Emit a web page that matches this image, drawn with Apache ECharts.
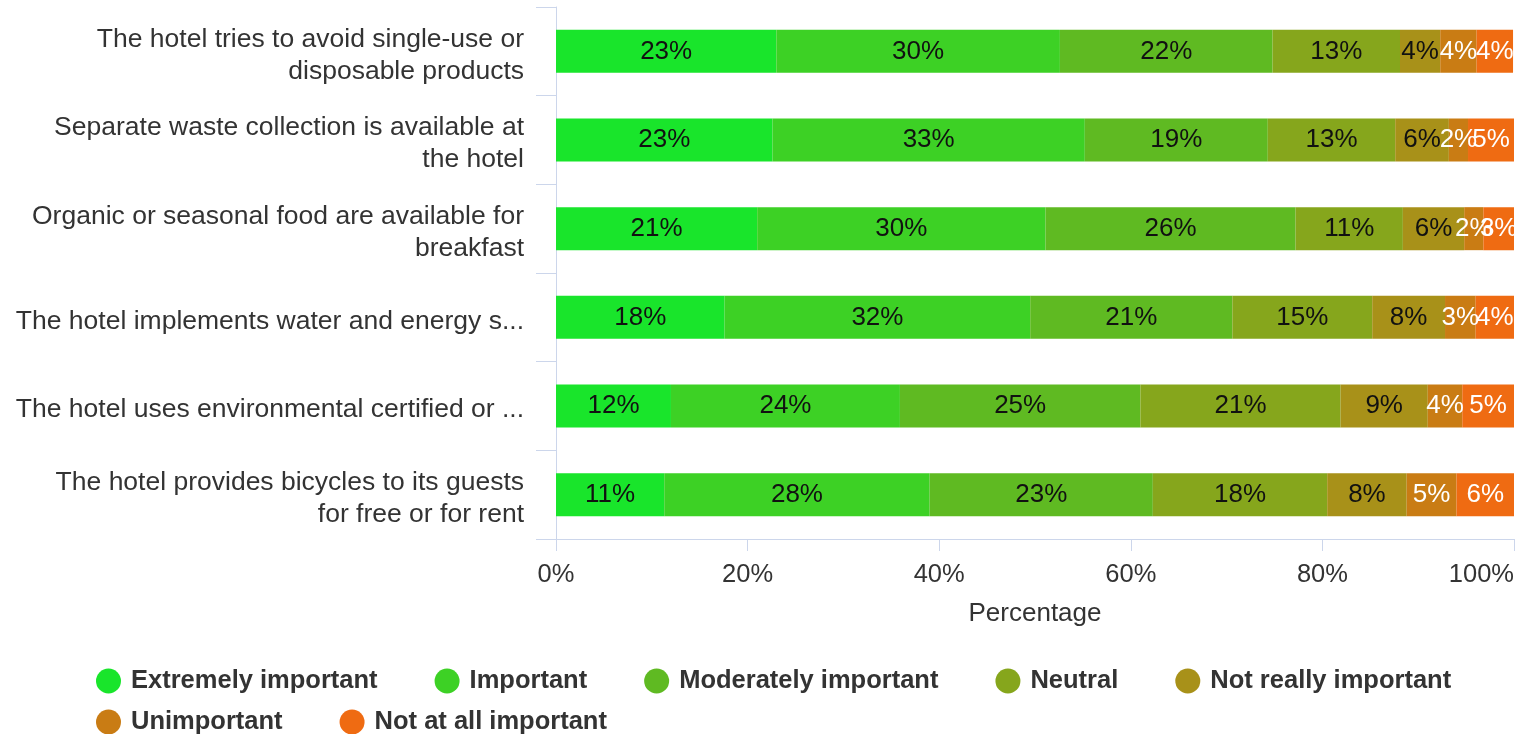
<!DOCTYPE html>
<html>
<head>
<meta charset="utf-8">
<title>Hotel sustainability practices – importance</title>
<script src="https://cdn.jsdelivr.net/npm/echarts@6/dist/echarts.min.js"></script>
<style>
  html, body { margin: 0; padding: 0; background: #fff; }
  #chart { width: 1516px; height: 734px; }
</style>
</head>
<body>
<div id="chart"></div>
<script>
// Survey statements (top to bottom)
const categories = [
  'The hotel tries to avoid single-use or\ndisposable products',
  'Separate waste collection is available at\nthe hotel',
  'Organic or seasonal food are available for\nbreakfast',
  'The hotel implements water and energy s...',
  'The hotel uses environmental certified or ...',
  'The hotel provides bicycles to its guests\nfor free or for rent'
];

// Share of respondents per answer (%), one value per statement
const extremelyImportant  = [23.0, 22.6, 21.0, 17.6, 12.0, 11.3];
const important           = [29.6, 32.6, 30.1, 31.9, 23.9, 27.7];
const moderatelyImportant = [22.2, 19.1, 26.1, 21.1, 25.1, 23.3];
const neutral             = [13.3, 13.3, 11.2, 14.6, 20.9, 18.2];
const notReallyImportant  = [4.2, 5.6, 6.4, 7.6, 9.1, 8.3];
const unimportant         = [3.8, 2.0, 2.0, 3.2, 3.6, 5.2];
const notAtAllImportant   = [3.8, 4.9, 3.3, 4.0, 5.4, 6.0];

const answerNames = [
  'Extremely important', 'Important', 'Moderately important', 'Neutral',
  'Not really important', 'Unimportant', 'Not at all important'
];
const answerValues = [
  extremelyImportant, important, moderatelyImportant, neutral,
  notReallyImportant, unimportant, notAtAllImportant
];
const answerColors = ['#19e52b', '#3dd125', '#5fba22', '#86a61c', '#a89119', '#c97c14', '#ef6b12'];
const labelColors  = ['#111', '#111', '#111', '#111', '#111', '#fff', '#fff'];

const FONT = '"Liberation Sans", Arial, sans-serif';
const AXIS_COLOR = '#ccd6eb';

const series = answerNames.map((name, i) => ({
  name: name,
  type: 'bar',
  stack: 'total',
  barWidth: 43,
  data: answerValues[i],
  itemStyle: { color: answerColors[i] },
  label: {
    show: true,
    position: 'inside',
    color: labelColors[i],
    fontFamily: FONT,
    fontSize: 26,
    formatter: p => Math.round(p.value) + '%'
  },
  emphasis: { disabled: true }
}));

const legendCommon = {
  left: 91,
  orient: 'horizontal',
  icon: 'circle',
  itemWidth: 35,
  itemHeight: 25,
  itemGap: 57,
  selectedMode: false,
  textStyle: {
    fontFamily: FONT,
    fontSize: 25.5,
    fontWeight: 'bold',
    color: '#333',
    lineHeight: 28
  }
};

// Category labels: a thin spacer line on top nudges the text block slightly below the bar centre
const categoryLabel = v => '{sp| }\n' + v.split('\n').map(l => '{t|' + l + '}').join('\n');

const chart = echarts.init(document.getElementById('chart'), null, { renderer: 'canvas' });
chart.setOption({
  animation: false,
  backgroundColor: '#fff',
  grid: {
    left: 556, right: 2, top: 7, bottom: 195,
    containLabel: false,
    outerBoundsMode: 'none'
  },
  legend: [
    Object.assign({}, legendCommon, { top: 662, data: answerNames.slice(0, 5) }),
    Object.assign({}, legendCommon, { top: 703, data: answerNames.slice(5) })
  ],
  xAxis: {
    type: 'value',
    min: 0,
    max: 100,
    interval: 20,
    name: 'Percentage',
    nameLocation: 'middle',
    nameGap: 62,
    nameTextStyle: { fontFamily: FONT, fontSize: 26, color: '#333' },
    axisLine: { show: true, lineStyle: { color: AXIS_COLOR, width: 1 } },
    axisTick: { show: true, length: 12, lineStyle: { color: AXIS_COLOR } },
    splitLine: { show: false },
    axisLabel: {
      fontFamily: FONT,
      fontSize: 25.5,
      color: '#333',
      margin: 23,
      alignMaxLabel: 'right',
      formatter: '{value}%'
    }
  },
  yAxis: {
    type: 'category',
    inverse: true,
    data: categories,
    axisLine: { show: true, lineStyle: { color: AXIS_COLOR, width: 1 } },
    axisTick: { show: true, length: 20, lineStyle: { color: AXIS_COLOR } },
    splitLine: { show: false },
    axisLabel: {
      margin: 32,
      align: 'right',
      formatter: categoryLabel,
      rich: {
        sp: { fontSize: 1, lineHeight: 8, height: 8 },
        t: { fontFamily: FONT, fontSize: 26.5, lineHeight: 32, color: '#333' }
      }
    }
  },
  series: series
});
</script>
</body>
</html>
